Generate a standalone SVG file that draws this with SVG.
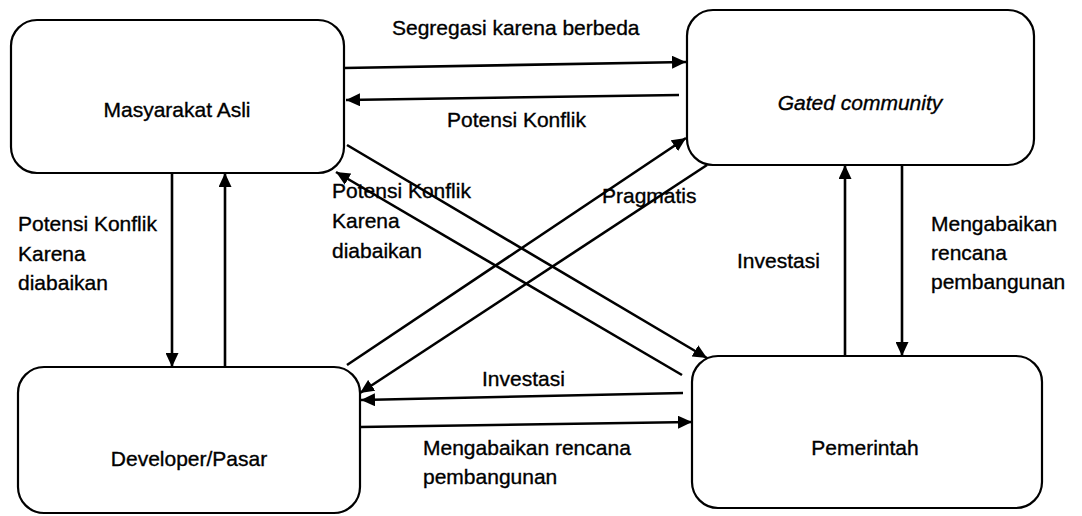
<svg xmlns="http://www.w3.org/2000/svg" width="1082" height="516" viewBox="0 0 1082 516">
<style>
.box{fill:#fff;stroke:#000;stroke-width:2.2}
.t{font-family:"Liberation Sans",Arial,sans-serif;font-size:21px;fill:#000;stroke:#000;stroke-width:0.35}
.c{text-anchor:middle}
.i{font-style:italic}
.ln{stroke:#000;stroke-width:2.6;fill:none;marker-end:url(#ah)}
</style>
<defs>
<marker id="ah" markerUnits="userSpaceOnUse" markerWidth="15" markerHeight="13" refX="14" refY="6.5" orient="auto">
<path d="M0,0 L14,6.5 L0,13 z" fill="#000"/>
</marker>
</defs>
<rect width="1082" height="516" fill="#fff"/>
<g id="node-masyarakat">
<rect class="box" x="11" y="20" width="333" height="153" rx="26"/>
<text class="t c" x="177" y="117">Masyarakat Asli</text>
</g>
<g id="node-gated">
<rect class="box" x="687" y="10" width="347" height="155" rx="26"/>
<text class="t c i" x="860" y="110">Gated community</text>
</g>
<g id="node-developer">
<rect class="box" x="18" y="367" width="342" height="146" rx="26"/>
<text class="t c" x="189" y="466">Developer/Pasar</text>
</g>
<g id="node-pemerintah">
<rect class="box" x="692" y="356" width="350" height="152" rx="26"/>
<text class="t c" x="865" y="455">Pemerintah</text>
</g>
<g id="connectors">
<line class="ln" x1="344" y1="68" x2="686" y2="62"/>
<line class="ln" x1="679" y1="95" x2="346" y2="100"/>
<line class="ln" x1="172" y1="173" x2="172" y2="367"/>
<line class="ln" x1="225" y1="367" x2="225" y2="173"/>
<line class="ln" x1="347" y1="145" x2="707" y2="358"/>
<line class="ln" x1="682" y1="375" x2="336" y2="172"/>
<line class="ln" x1="347" y1="365" x2="686" y2="138"/>
<line class="ln" x1="707" y1="165" x2="360" y2="393"/>
<line class="ln" x1="683" y1="393" x2="361" y2="400"/>
<line class="ln" x1="360" y1="427" x2="692" y2="422"/>
<line class="ln" x1="845" y1="357" x2="845" y2="165"/>
<line class="ln" x1="902" y1="165" x2="902" y2="356"/>
</g>
<g id="labels">
<text class="t" x="392" y="35">Segregasi karena berbeda</text>
<text class="t" x="447" y="127">Potensi Konflik</text>
<text class="t" x="18" y="231">Potensi Konflik</text>
<text class="t" x="18" y="261">Karena</text>
<text class="t" x="18" y="290">diabaikan</text>
<text class="t" x="332" y="198">Potensi Konflik</text>
<text class="t" x="332" y="228">Karena</text>
<text class="t" x="332" y="258">diabaikan</text>
<text class="t" x="602" y="203">Pragmatis</text>
<text class="t" x="482" y="386">Investasi</text>
<text class="t" x="423" y="455">Mengabaikan rencana</text>
<text class="t" x="423" y="484">pembangunan</text>
<text class="t" x="737" y="268">Investasi</text>
<text class="t" x="931" y="231">Mengabaikan</text>
<text class="t" x="931" y="260">rencana</text>
<text class="t" x="931" y="289">pembangunan</text>
</g>
</svg>
